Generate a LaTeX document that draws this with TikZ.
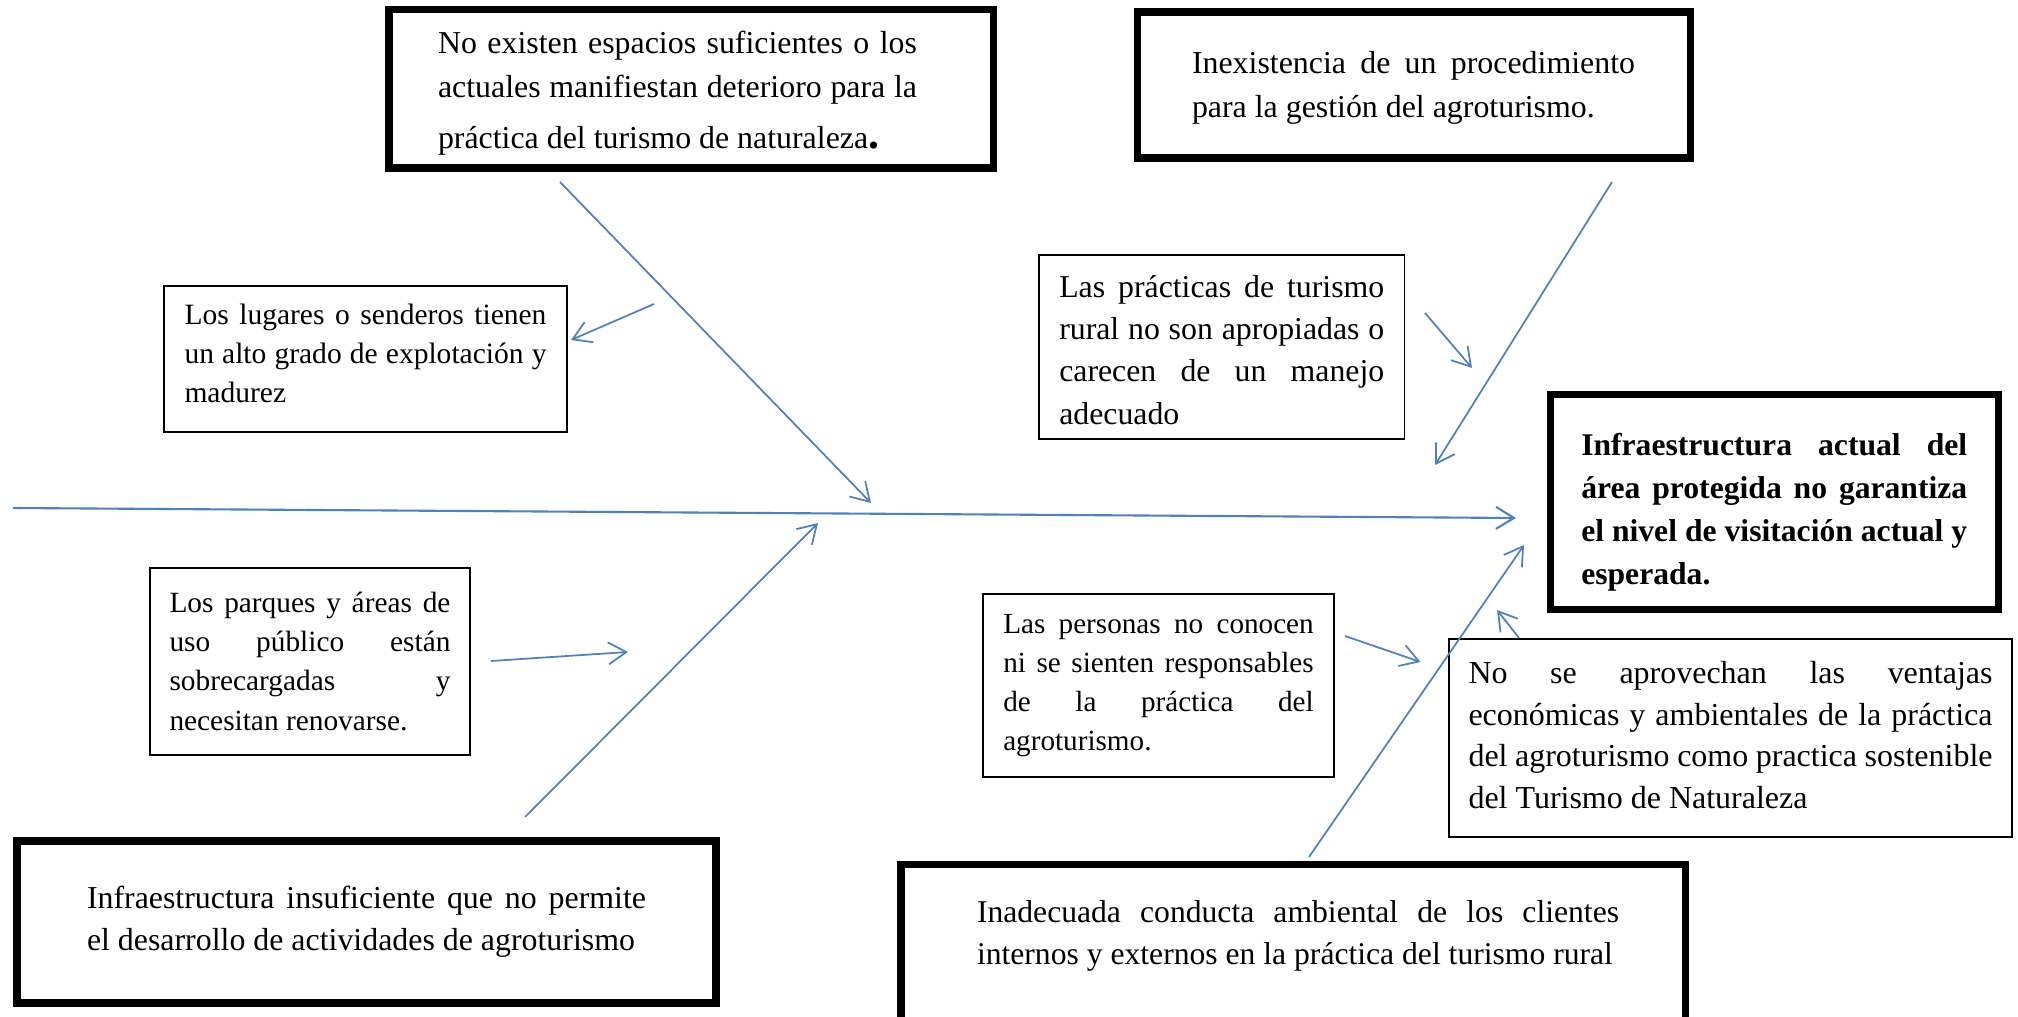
\documentclass[tikz,border=0pt]{standalone}
\usepackage{fontspec}
\setmainfont{Liberation Serif}
\usetikzlibrary{arrows.meta}
\definecolor{fishblue}{RGB}{79,129,189}
\hyphenpenalty=10000
\tolerance=10000
\begin{document}
\begin{tikzpicture}[
  framebox/.style={draw,line width=2pt,inner xsep=0pt,inner ysep=0pt},
  thickbox/.style={framebox,align=justify,font=\fontsize{9.07}{12}\selectfont},
  thinbox/.style={draw,line width=0.5pt,align=justify,inner ysep=0pt,font=\fontsize{9.05}{12}\selectfont},
  smallbox/.style={thinbox,font=\fontsize{8.35}{11.1}\selectfont},
  bone/.style={fishblue,line width=0.5pt,-{Straight Barb[length=1.8mm,width=2.2mm]}}]
\useasboundingbox (0,0) rectangle (20.18,10.16);

%Main causes - thick boxes
\node[framebox,font=\fontsize{9.07}{12.4}\selectfont,minimum width=6.045cm,minimum height=1.585cm] (espacios) at (6.9125,9.2725)
  {\hspace*{0.49cm}\parbox{4.79cm}{\rule{0pt}{9pt}No existen espacios suficientes o los\linebreak actuales manifiestan deterioro para la\vadjust{\vskip2.2pt}\linebreak pr\'actica del turismo de naturaleza{\fontsize{12.5}{12}\selectfont\bfseries.}}\hspace*{0.765cm}};
\node[thickbox,font=\fontsize{9.07}{12.3}\selectfont,text width=4.43cm,inner xsep=0.55cm,minimum width=5.53cm,minimum height=1.46cm] (procedimiento) at (14.135,9.31)
  {\rule{0pt}{8pt}Inexistencia de un procedimiento\linebreak para la gesti\'on del agroturismo.};
\node[thickbox,text width=5.59cm,inner xsep=0.70cm,minimum width=6.99cm,minimum height=1.62cm] (infra) at (3.665,0.94)
  {Infraestructura insuficiente que no permite\linebreak el desarrollo de actividades de agroturismo};
\node[framebox,anchor=north,font=\fontsize{9}{12}\selectfont,inner ysep=0.36cm,minimum width=7.84cm] (conducta) at (12.93,1.55)
  {\hspace*{0.76cm}\parbox{6.42cm}{Inadecuada conducta ambiental de los clientes\linebreak internos y externos en la pr\'actica del turismo rural\par\rule{0pt}{1cm}}\hspace*{0.66cm}};
%Effect
\node[thickbox,font=\bfseries\fontsize{9}{12.2}\selectfont,text width=3.86cm,inner xsep=0.3075cm,minimum width=4.475cm,minimum height=2.15cm] (efecto) at (17.7425,5.14)
  {\rule{0pt}{12pt}Infraestructura actual del\linebreak \'area protegida no garantiza\linebreak el nivel de visitaci\'on actual y\linebreak esperada.};

%Sub causes - thin boxes
\node[smallbox,font=\fontsize{8.4}{11.1}\selectfont,text width=3.62cm,inner xsep=0.205cm,minimum width=4.03cm,minimum height=1.46cm] (lugares) at (3.655,6.57)
  {Los lugares o senderos tienen\linebreak un alto grado de explotaci\'on y\linebreak madurez\rule[-3.1pt]{0pt}{0pt}};
\node[thinbox,text width=3.25cm,inner xsep=0.2025cm,minimum width=3.655cm,minimum height=1.84cm] (practicas) at (12.2175,6.69)
  {\rule{0pt}{8pt}Las pr\'acticas de turismo\linebreak rural no son apropiadas o\linebreak carecen de un manejo\linebreak adecuado};
\node[smallbox,font=\fontsize{8.3}{11.1}\selectfont,text width=3.105cm,inner xsep=0.2025cm,minimum width=3.51cm,minimum height=1.83cm] (personas) at (11.585,3.305)
  {Las personas no conocen\linebreak ni se sienten responsables\linebreak de la pr\'actica del\linebreak agroturismo.};
\node[thinbox,font=\fontsize{9.1}{11.8}\selectfont,text width=5.24cm,inner xsep=0.195cm,minimum width=5.63cm,minimum height=1.98cm] (ventajas) at (17.305,2.78)
  {No se aprovechan las ventajas\linebreak econ\'omicas y ambientales de la pr\'actica\linebreak del agroturismo como practica sostenible\linebreak del Turismo de Naturaleza\rule[-1.7pt]{0pt}{0pt}};
\node[smallbox,text width=2.81cm,inner xsep=0.195cm,minimum width=3.20cm,minimum height=1.87cm] (parques) at (3.10,3.545)
  {Los parques y \'areas de\linebreak uso p\'ublico est\'an\linebreak sobrecargadas y\linebreak necesitan renovarse.};

%Ends of the bones
\coordinate (s1) at (0.13,5.08);   \coordinate (s2) at (15.16,4.98);
\coordinate (a1) at (5.60,8.34);   \coordinate (a2) at (8.71,5.13);
\coordinate (b1) at (6.54,7.12);   \coordinate (b2) at (5.71,6.76);
\coordinate (c1) at (16.12,8.34);  \coordinate (c2) at (14.35,5.51);
\coordinate (d1) at (14.25,7.03);  \coordinate (d2) at (14.72,6.48);
\coordinate (i1) at (4.91,3.55);   \coordinate (i2) at (6.28,3.64);
\coordinate (j1) at (5.25,1.99);   \coordinate (j2) at (8.18,4.93);
\coordinate (f1) at (13.45,3.80);  \coordinate (f2) at (14.205,3.54);
\coordinate (h1) at (13.09,1.59);  \coordinate (h2) at (15.24,4.71);
\coordinate (g1) at (15.19,3.78);  \coordinate (g2) at (14.97,4.06);

%Draw the spine and the bones
\draw[bone,line width=0.6pt] (s1) -- (s2);
\foreach \p/\q in {a1/a2,b1/b2,c1/c2,d1/d2,i1/i2,j1/j2,f1/f2,h1/h2,g1/g2} \draw[bone] (\p) -- (\q);

\end{tikzpicture}
\end{document}
